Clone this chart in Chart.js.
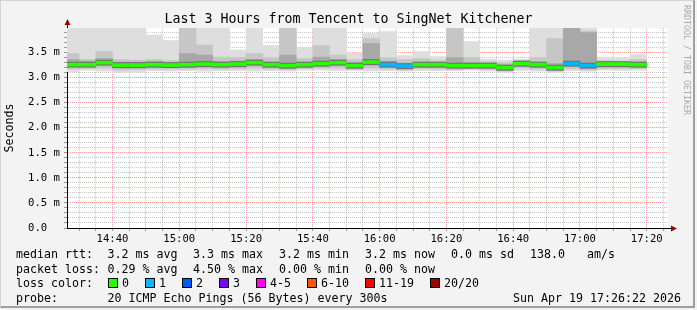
<!DOCTYPE html>
<html>
<head>
<meta charset="utf-8">
<script src="https://cdn.jsdelivr.net/npm/chart.js@4.4.1/dist/chart.umd.min.js"></script>
<style>
html, body { margin: 0; padding: 0; background: #f3f3f3; }
#wrap { position: relative; width: 697px; height: 310px; overflow: hidden; font-family: "DejaVu Sans Mono", monospace; }
#frame { position: absolute; left: 0; top: 0; width: 692px; height: 305px; border-top: 1px solid #d4d4d4; border-left: 1px solid #d4d4d4; border-right: 2px solid #a0a0a0; border-bottom: 2px solid #a0a0a0; pointer-events: none; }
canvas { position: absolute; left: 0; top: 0; }
.t { position: absolute; font-size: 11.63px; line-height: 14px; white-space: pre; color: #000; }
.sq { position: absolute; width: 8px; height: 8px; border: 1px solid #000; }
#title { position: absolute; left: 0; top: 11px; width: 697px; text-align: center; font-size: 13.3px; line-height: 16px; color: #000; }
#rrd { position: absolute; left: 682px; top: 5px; writing-mode: vertical-rl; font-size: 8.3px; line-height: 10px; color: #aaaaaa; white-space: pre; }
</style>
</head>
<body>
<div id="wrap">
  <canvas id="smokeChart" width="697" height="310"></canvas>
  <div id="title">Last 3 Hours from Tencent to SingNet Kitchener</div>
  <div id="rrd">RRDTOOL / TOBI OETIKER</div>
  <div id="legend"></div>
  <div id="frame"></div>
</div>
<script>
// 5 minute slots (start time of each slot)
var slotStart = ['14:25', '14:30', '14:35', '14:40', '14:45', '14:50', '14:55',
  '15:00', '15:05', '15:10', '15:15', '15:20', '15:25', '15:30', '15:35', '15:40', '15:45', '15:50', '15:55',
  '16:00', '16:05', '16:10', '16:15', '16:20', '16:25', '16:30', '16:35', '16:40', '16:45', '16:50', '16:55',
  '17:00', '17:05', '17:10', '17:15'];
var graphStart = '14:26:22';
var graphEnd = '17:26:22';

// median rtt (ms)
var medianRtt = [3.26, 3.26, 3.30, 3.25, 3.25, 3.26, 3.25, 3.26, 3.27, 3.26, 3.27, 3.30, 3.26, 3.24, 3.26, 3.28, 3.30, 3.24,
  3.31, 3.26, 3.23, 3.26, 3.26, 3.24, 3.24, 3.24, 3.20, 3.28, 3.26, 3.20, 3.28, 3.24, 3.27, 3.27, 3.26];
// lost pings out of 20
var lossCount = [0, 0, 0, 0, 0, 0, 0, 0, 0, 0, 0, 0, 0, 0, 0, 0, 0, 0, 0, 1, 1, 0, 0, 0, 0, 0, 0, 0, 0, 0, 1, 1, 0, 0, 0];

// smoke: spread of the 20 pings (ms)
var rttMin = [3.12, 3.15, 3.13, 3.10, 3.11, 3.14, 3.13, 3.14, 3.13, 3.14, 3.14, 3.13, 3.14, 3.13, 3.15, 3.15, 3.14, 3.14,
  3.13, 3.14, 3.13, 3.14, 3.14, 3.14, 3.15, 3.13, 3.11, 3.14, 3.13, 3.10, 3.14, 3.13, 3.15, 3.14, 3.15];
var rttLow = [3.17, 3.18, 3.19, 3.15, 3.16, 3.17, 3.17, 3.17, 3.18, 3.17, 3.18, 3.19, 3.17, 3.16, 3.18, 3.19, 3.19, 3.16,
  3.19, 3.17, 3.15, 3.18, 3.17, 3.16, 3.17, 3.16, 3.13, 3.19, 3.17, 3.13, 3.18, 3.15, 3.18, 3.18, 3.18];
var rttDarkLow = [3.21, 3.21, 3.24, 3.19, 3.19, 3.20, 3.20, 3.20, 3.21, 3.20, 3.21, 3.24, 3.20, 3.18, 3.20, 3.22, 3.24, 3.18,
  3.25, 3.20, 3.17, 3.20, 3.20, 3.18, 3.18, 3.18, 3.14, 3.22, 3.20, 3.14, 3.22, 3.18, 3.21, 3.21, 3.20];
var rttDarkHigh = [3.36, 3.33, 3.38, 3.31, 3.31, 3.32, 3.30, 3.48, 3.45, 3.32, 3.33, 3.36, 3.31, 3.45, 3.31, 3.41, 3.36, 3.30,
  3.68, 3.33, 3.29, 3.31, 3.30, 3.40, 3.30, 3.29, 3.26, 3.33, 3.31, 3.28, 4.30, 3.90, 3.31, 3.30, 3.31];
var rttHigh = [3.48, 3.36, 3.52, 3.36, 3.35, 3.36, 3.34, 4.30, 3.65, 3.41, 3.40, 3.48, 3.40, 4.30, 3.38, 3.64, 3.45, 3.36,
  3.78, 3.40, 3.36, 3.38, 3.34, 4.30, 3.40, 3.32, 3.30, 3.34, 3.40, 3.78, 4.30, 3.93, 3.34, 3.33, 3.36];
var rttMax = [4.30, 4.30, 4.30, 4.30, 4.30, 3.85, 3.74, 4.30, 4.30, 4.30, 3.55, 4.30, 3.64, 4.30, 3.61, 4.30, 4.30, 3.49,
  3.88, 3.92, 3.44, 3.52, 3.42, 4.30, 3.72, 3.37, 3.35, 3.37, 4.30, 4.30, 4.30, 4.30, 3.41, 3.39, 3.46];

// axis labels
var xTickLabels = ['14:40', '15:00', '15:20', '15:40', '16:00', '16:20', '16:40', '17:00', '17:20'];
var yTickLabels = ['0.0  ', '0.5 m', '1.0 m', '1.5 m', '2.0 m', '2.5 m', '3.0 m', '3.5 m'];

// loss colours
var lossLabels = ['0', '1', '2', '3', '4-5', '6-10', '11-19', '20/20'];
var lossColors = ['#26ff00', '#00b8ff', '#0059ff', '#7e00ff', '#ff00ff', '#ff5500', '#ff0000', '#a10000'];

function toMin(t) {
  var p = t.split(':');
  return (+p[0]) * 60 + (+p[1]) + (p[2] ? (+p[2]) / 60 : 0);
}
var xStart = toMin(graphStart);
var xEnd = toMin(graphEnd);
var centers = slotStart.map(function (t) { return toMin(t) + 2.5; });

function ranges(lo, hi) {
  return centers.map(function (c, i) { return { x: c, y: [lo[i], hi[i]] }; });
}
function band(half) {
  return centers.map(function (c, i) { return { x: c, y: [medianRtt[i] - half, medianRtt[i] + half] }; });
}

var barCommon = { barPercentage: 1, categoryPercentage: 1, grouped: false, borderWidth: 0 };
function barSet(label, data, color, order) {
  return Object.assign({ type: 'bar', label: label, data: data, backgroundColor: color, order: order }, barCommon);
}

var monoFont = 'DejaVu Sans Mono';
var minorGrid = 'rgba(150,150,150,0.55)';
var majorGrid = 'rgba(255,80,80,0.55)';

// white plot area + axis arrows
var plotDecor = {
  id: 'plotDecor',
  beforeDraw: function (chart) {
    var a = chart.chartArea, c = chart.ctx;
    c.save();
    c.fillStyle = '#ffffff';
    c.fillRect(a.left, a.top, a.right - a.left, a.bottom - a.top);
    c.restore();
  },
  afterDraw: function (chart) {
    var a = chart.chartArea, c = chart.ctx;
    var x0 = Math.round(a.left) + 0.5, y0 = Math.round(a.bottom) + 0.5;
    c.save();
    c.strokeStyle = '#000';
    c.lineWidth = 1;
    c.beginPath();
    c.moveTo(a.right, y0); c.lineTo(a.right + 5, y0);
    c.moveTo(x0, a.top); c.lineTo(x0, a.top - 5);
    c.stroke();
    c.fillStyle = '#990000';
    c.beginPath();
    c.moveTo(a.right + 3, y0 - 3); c.lineTo(a.right + 9, y0); c.lineTo(a.right + 3, y0 + 3);
    c.closePath(); c.fill();
    c.beginPath();
    c.moveTo(x0 - 3, a.top - 3); c.lineTo(x0, a.top - 9); c.lineTo(x0 + 3, a.top - 3);
    c.closePath(); c.fill();
    c.restore();
  }
};

var ctx = document.getElementById('smokeChart').getContext('2d');
var smokeChart = new Chart(ctx, {
  type: 'bar',
  data: {
    datasets: [
      barSet('median', band(0.03), lossCount.map(function (n) { return lossColors[n]; }), 0),
      barSet('core', band(0.05), '#6e6e6e', 1),
      barSet('dark', ranges(rttDarkLow, rttDarkHigh), '#a8a8a8', 2),
      barSet('mid', ranges(rttLow, rttHigh), '#c6c6c6', 3),
      barSet('light', ranges(rttMin, rttMax), '#dedede', 4)
    ]
  },
  options: {
    responsive: false,
    animation: false,
    events: [],
    layout: { padding: { left: 0, right: 29, top: 28, bottom: 0 } },
    plugins: { legend: { display: false }, tooltip: { enabled: false }, title: { display: false } },
    scales: {
      x: {
        type: 'linear', min: xStart, max: xEnd, z: 1, offset: false,
        afterBuildTicks: function (s) {
          var t = [];
          for (var v = Math.ceil(xStart / 5) * 5; v <= xEnd; v += 5) t.push({ value: v });
          s.ticks = t;
        },
        afterFit: function (s) { s.height = 82; },
        grid: {
          offset: false,
          color: function (c) { return c.tick && c.tick.value % 20 === 0 ? majorGrid : minorGrid; },
          tickColor: '#999', tickLength: 3, lineWidth: 1
        },
        border: { display: true, color: '#000', width: 1, dash: [1, 1] },
        ticks: {
          autoSkip: false, maxRotation: 0, padding: 2, color: '#000',
          font: { family: monoFont, size: 10.6 },
          callback: function (v) {
            for (var i = 0; i < xTickLabels.length; i++) if (toMin(xTickLabels[i]) === v) return xTickLabels[i];
            return '';
          }
        }
      },
      y: {
        min: 0, max: 3.99, z: 1,
        afterBuildTicks: function (s) {
          var t = [];
          for (var i = 0; i <= 39; i++) t.push({ value: i / 10 });
          s.ticks = t;
        },
        afterFit: function (s) { s.width = 67; },
        grid: {
          color: function (c) { return c.tick && Math.round(c.tick.value * 10) % 5 === 0 ? majorGrid : minorGrid; },
          tickColor: '#999', tickLength: 3, lineWidth: 1
        },
        border: { display: true, color: '#000', width: 1, dash: [1, 1] },
        title: { display: true, text: 'Seconds', color: '#000', padding: { top: 3, bottom: 0 }, font: { family: monoFont, size: 11.63, lineHeight: 1.2 } },
        ticks: {
          autoSkip: false, padding: 4, color: '#000',
          font: { family: monoFont, size: 10.6 },
          callback: function (v) {
            var k = Math.round(v * 10);
            return k % 5 === 0 ? yTickLabels[k / 5] : '';
          }
        }
      }
    }
  },
  plugins: [plotDecor]
});

// legend lines under the graph
var legend = document.getElementById('legend');
function addText(txt, left, cy, right) {
  var d = document.createElement('div');
  d.className = 't';
  d.textContent = txt;
  d.style.top = (cy - 7) + 'px';
  if (right) { d.style.right = (697 - left) + 'px'; } else { d.style.left = left + 'px'; }
  legend.appendChild(d);
}
addText('median rtt:', 16, 254);
addText('3.2 ms avg', 107.6, 254);
addText('3.3 ms max', 193, 254);
addText('3.2 ms min', 279, 254);
addText('3.2 ms now', 365, 254);
addText('0.0 ms sd', 451, 254);
addText('138.0', 530, 254);
addText('am/s', 587, 254);

addText('packet loss:', 16, 268.5);
addText('0.29 % avg', 107.6, 268.5);
addText('4.50 % max', 193, 268.5);
addText('0.00 % min', 279, 268.5);
addText('0.00 % now', 365, 268.5);

addText('loss color:', 16, 283);
var sqLeft = [108, 145, 182, 219, 256, 307, 365, 430];
lossLabels.forEach(function (lbl, i) {
  var s = document.createElement('div');
  s.className = 'sq';
  s.style.left = sqLeft[i] + 'px';
  s.style.top = '278px';
  s.style.background = lossColors[i];
  legend.appendChild(s);
  addText(lbl, sqLeft[i] + 14, 283);
});

addText('probe:', 16, 297.5);
addText('20 ICMP Echo Pings (56 Bytes) every 300s', 107.6, 297.5);
addText('Sun Apr 19 17:26:22 2026', 681, 297.5, true);
</script>
</body>
</html>
